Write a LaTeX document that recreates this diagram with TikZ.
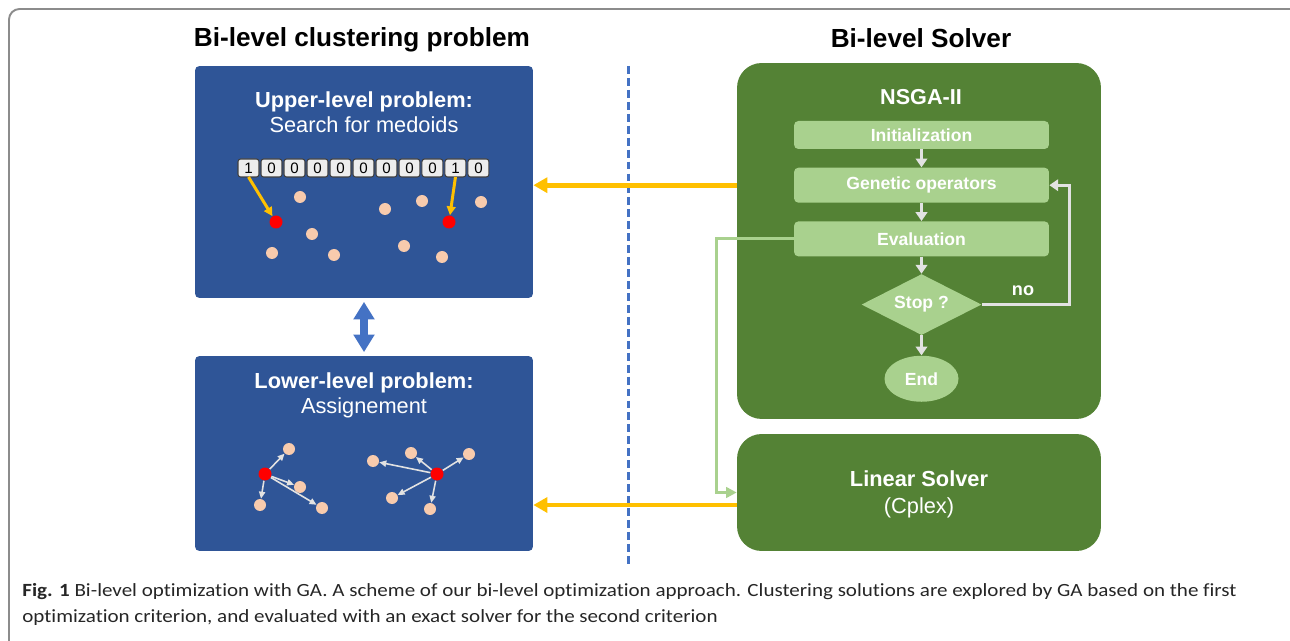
\documentclass[tikz,border=0pt]{standalone}
\usepackage{fontspec}
\setmainfont{Liberation Sans}
\newfontfamily\capfont[FakeStretch=1.13, Ligatures=NoCommon]{Carlito}
\usetikzlibrary{positioning,shapes.geometric,arrows.meta}
\definecolor{probblue}{HTML}{2F5597}
\definecolor{linkblue}{HTML}{4472C4}
\definecolor{solvgreen}{HTML}{548235}
\definecolor{stepgreen}{HTML}{A9D18E}
\definecolor{pointpeach}{HTML}{F8CBAD}
\definecolor{passyellow}{HTML}{FFC000}
\definecolor{flowgray}{HTML}{E2E2E2}
\definecolor{cellgray}{HTML}{EDEDED}

\begin{document}
\begin{tikzpicture}[
        x=0.02cm, y=-0.02cm,
        node distance = 0.36cm,
        panel/.style = {fill=probblue, rounded corners=2.5pt, minimum width=6.76cm},
        solver/.style = {fill=solvgreen, rounded corners=14pt, minimum width=7.28cm},
        stepbox/.style = {fill=stepgreen, rounded corners=2.5pt, minimum width=5.1cm, minimum height=0.7cm, text=white, font=\bfseries\fontsize{10}{12}\selectfont},
        bitcell/.style = {draw=black!75, line width=0.6pt, outer sep=0pt, fill=cellgray, rounded corners=1.5pt, minimum width=0.42cm, minimum height=0.36cm, inner sep=0pt, font=\fontsize{8.6}{10}\selectfont},
        objpoint/.style = {circle, fill=pointpeach, minimum size=0.24cm, inner sep=0pt},
        medoid/.style = {circle, fill=red, minimum size=0.26cm, inner sep=0pt},
        flow/.style = {draw=flowgray, line width=1.7pt, -{Triangle[length=5pt,width=6.5pt]}},
        assign/.style = {draw=flowgray, line width=0.9pt, -{Triangle[length=4pt,width=3.5pt]}},
        pick/.style = {draw=passyellow, line width=1.7pt, -{Triangle[length=5pt,width=5pt]}},
        pass/.style = {draw=passyellow, line width=2.8pt, -{Triangle[length=8pt,width=8.5pt]}},
        heading/.style = {font=\bfseries\fontsize{14.9}{18}\selectfont},
        paneltext/.style = {text=white, align=center, font=\fontsize{12.4}{14.2}\selectfont}
    ]
        \useasboundingbox (0,0) rectangle (1290,641);
        % FRAME
        \draw[gray!90, line width=1.1pt, rounded corners=6pt] (9,9) rectangle (1320,680);
        % titles
        \node[heading] (lefttitle) at (362,40) {Bi-level clustering problem};
        \node[heading] (righttitle) at (921,38) {Bi-level Solver};

        % UPPER LEVEL
        \node[panel, minimum height=4.64cm] (upper) at (364,182) {};
        \node[paneltext] (uppertext) at (364,112) {\textbf{Upper-level problem:}\\Search for medoids};
        % bit string
        \node[bitcell] (c1) at (248.5,168) {1};
        \node[bitcell, right=0.04cm of c1] (c2) {0};
        \node[bitcell, right=0.04cm of c2] (c3) {0};
        \node[bitcell, right=0.04cm of c3] (c4) {0};
        \node[bitcell, right=0.04cm of c4] (c5) {0};
        \node[bitcell, right=0.04cm of c5] (c6) {0};
        \node[bitcell, right=0.04cm of c6] (c7) {0};
        \node[bitcell, right=0.04cm of c7] (c8) {0};
        \node[bitcell, right=0.04cm of c8] (c9) {0};
        \node[bitcell, right=0.04cm of c9] (c10) {1};
        \node[bitcell, right=0.04cm of c10] (c11) {0};
        % points
        \node[medoid] (m1) at (276,222) {};
        \node[medoid] (m2) at (449,222) {};
        \node[objpoint] (p1) at (300,197) {};
        \node[objpoint] (p2) at (312,234) {};
        \node[objpoint] (p3) at (272,253) {};
        \node[objpoint] (p4) at (334,255) {};
        \node[objpoint] (p5) at (385,209) {};
        \node[objpoint] (p6) at (422,201) {};
        \node[objpoint] (p7) at (481,202) {};
        \node[objpoint] (p8) at (404,246) {};
        \node[objpoint] (p9) at (442,257) {};
        \draw[pick] (c1.south) -- (m1);
        \draw[pick] (c10.south) -- (m2);

        % LOWER LEVEL
        \node[panel, minimum height=3.9cm] (lower) at (364,453.5) {};
        \node[paneltext] (lowertext) at (364,395) {\textbf{Lower-level problem:}\\Assignement};
        \node[medoid] (m3) at (265,474) {};
        \node[medoid] (m4) at (437,474) {};
        \node[objpoint] (q1) at (289,449) {};
        \node[objpoint] (q2) at (300,487) {};
        \node[objpoint] (q3) at (260,505) {};
        \node[objpoint] (q4) at (322,508) {};
        \node[objpoint] (q5) at (411,453) {};
        \node[objpoint] (q6) at (373,461) {};
        \node[objpoint] (q7) at (469,454) {};
        \node[objpoint] (q8) at (392,498) {};
        \node[objpoint] (q9) at (430,509) {};
        \draw[assign] (m3) -- (q1);
        \draw[assign] (m3) -- (q2);
        \draw[assign] (m3) -- (q3);
        \draw[assign] (m3) -- (q4);
        \draw[assign] (m4) -- (q5);
        \draw[assign] (m4) -- (q6);
        \draw[assign] (m4) -- (q7);
        \draw[assign] (m4) -- (q8);
        \draw[assign] (m4) -- (q9);
        % link between levels
        \draw[linkblue, line width=4pt, shorten <=2pt, shorten >=2pt,
            {Triangle[length=10pt,width=11.5pt]}-{Triangle[length=10pt,width=11.5pt]}] (upper.south) -- (lower.north);

        % DIVIDER
        \coordinate (divtop) at (628,66);
        \coordinate (divbot) at (628,566);
        \draw[linkblue, line width=1.7pt, dash pattern=on 4.5pt off 2.3pt] (divtop) -- (divbot);

        % NSGA-II
        \node[solver, minimum height=7.12cm] (nsga) at (919,241) {};
        \node[text=white, font=\bfseries\fontsize{12.3}{14}\selectfont] (nsgatitle) at (921,97) {NSGA-II};
        \node[stepbox, minimum height=0.56cm] (init) at (921.5,135) {Initialization};
        \node[stepbox, below=of init] (gen) {Genetic operators};
        \node[stepbox, below=of gen] (eval) {Evaluation};
        \node[diamond, aspect=2, fill=stepgreen, minimum width=2.4cm, minimum height=1.22cm, inner sep=0pt,
            text=white, font=\bfseries\fontsize{10}{12}\selectfont, below=0.34cm of eval] (stop) {Stop ?};
        \node[ellipse, fill=stepgreen, minimum width=1.48cm, minimum height=0.92cm, inner sep=0pt,
            text=white, font=\bfseries\fontsize{10}{12}\selectfont, below=0.4cm of stop] (end) {End};
        \draw[flow] (init) -- (gen);
        \draw[flow] (gen) -- (eval);
        \draw[flow] (eval) -- (stop);
        \draw[flow] (stop) -- (end);
        \draw[flow] (stop.east) -- ++(88,0) |- (gen.east);
        \node[text=white, font=\bfseries\fontsize{10.3}{12}\selectfont] (nolabel) at (1023,291) {no};

        % LINEAR SOLVER
        \node[solver, minimum height=2.34cm] (linear) at (919,492.5) {};
        \node[paneltext, font=\fontsize{12.4}{15.3}\selectfont] (lineartext) at (919,494) {\textbf{Linear Solver}\\(Cplex)};
        \draw[stepgreen, line width=1.7pt, -{Triangle[length=6pt,width=6pt]}] (eval.west) -- ++(-77,0) |- (linear.west);

        % PASSING ARROWS
        \draw[pass] (nsga.west |- gen) -- (upper.east |- gen);
        \draw[pass] (linear.west |- 0,505) -- (lower.east |- 0,505);

        % CAPTION
        \node[anchor=north west, align=left, inner sep=0pt, text=black!85,
            font=\capfont\fontsize{10.6}{14.7}\selectfont] (caption) at (22,583)
            {\textbf{Fig. 1} Bi-level optimization with GA. A scheme of our bi-level optimization approach. Clustering solutions are explored by GA based on the first\\optimization criterion, and evaluated with an exact solver for the second criterion};
\end{tikzpicture}
\end{document}
